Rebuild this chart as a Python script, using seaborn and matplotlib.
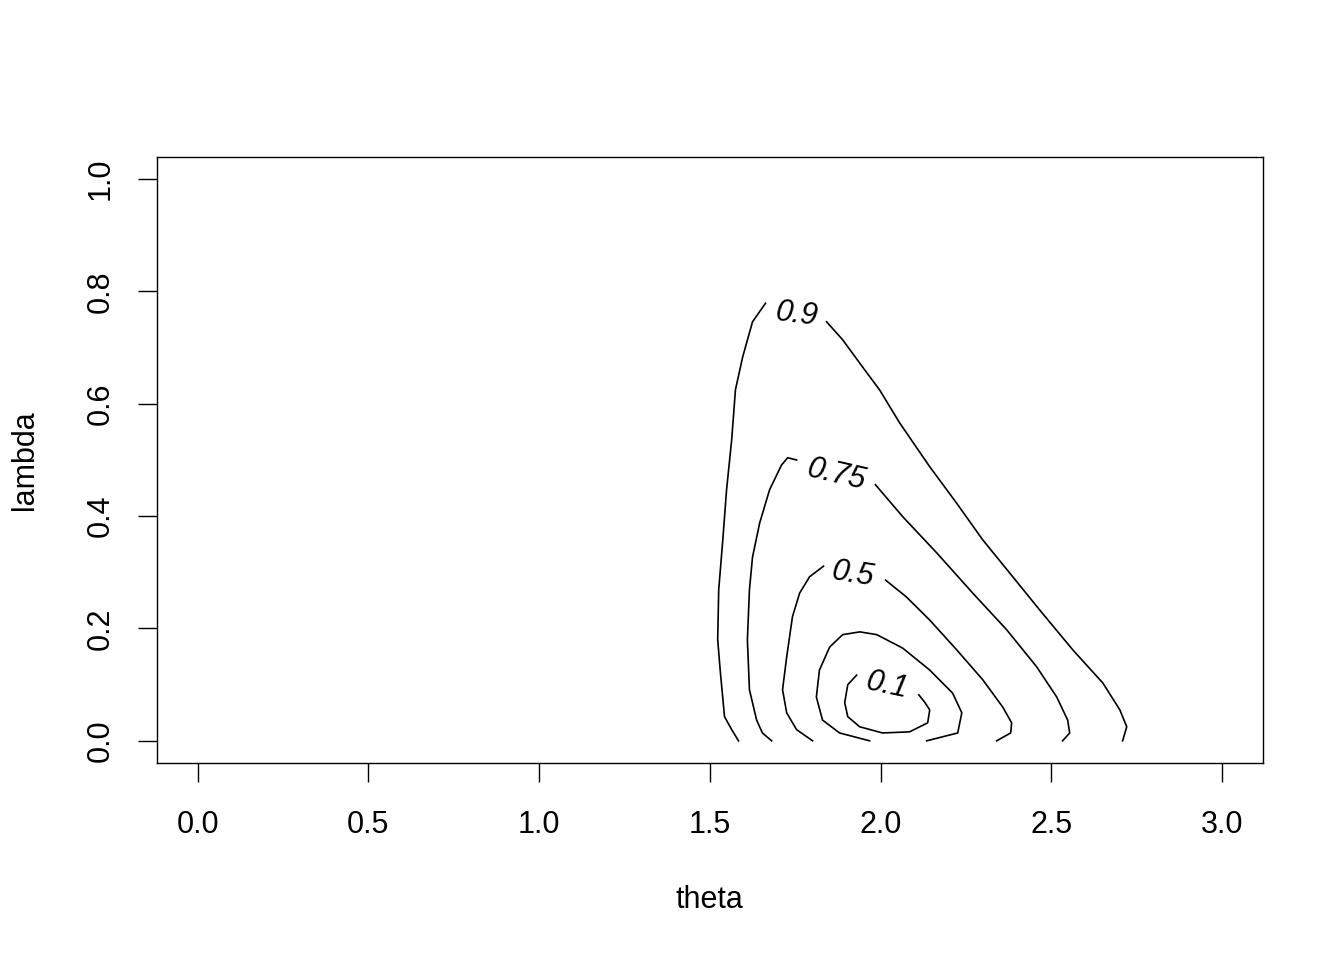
import numpy as np
import pandas as pd
import matplotlib
matplotlib.use("Agg")
import matplotlib.pyplot as plt
import seaborn as sns

# contour lines (theta, lambda), split where the label sits
theta_09_a = [1.663, 1.625, 1.596, 1.575, 1.564, 1.549, 1.538, 1.526, 1.523, 1.531, 1.543, 1.564, 1.584]
lambda_09_a = [0.779, 0.746, 0.683, 0.625, 0.536, 0.447, 0.358, 0.269, 0.180, 0.121, 0.043, 0.020, 0.0]
theta_09_b = [1.842, 1.889, 1.948, 1.997, 2.056, 2.144, 2.223, 2.299, 2.378, 2.466, 2.563, 2.651, 2.701, 2.721, 2.709]
lambda_09_b = [0.746, 0.714, 0.665, 0.625, 0.566, 0.488, 0.423, 0.358, 0.299, 0.233, 0.162, 0.103, 0.055, 0.025, 0.0]

theta_075_a = [1.754, 1.728, 1.710, 1.675, 1.646, 1.625, 1.616, 1.610, 1.616, 1.637, 1.654, 1.681]
lambda_075_a = [0.500, 0.504, 0.491, 0.447, 0.388, 0.327, 0.269, 0.180, 0.091, 0.037, 0.014, 0.0]
theta_075_b = [1.985, 2.065, 2.164, 2.270, 2.369, 2.457, 2.516, 2.548, 2.554, 2.533]
lambda_075_b = [0.456, 0.399, 0.335, 0.263, 0.198, 0.132, 0.078, 0.037, 0.014, 0.0]

theta_05_a = [1.833, 1.792, 1.763, 1.742, 1.725, 1.713, 1.725, 1.754, 1.801]
lambda_05_a = [0.311, 0.292, 0.263, 0.221, 0.149, 0.091, 0.050, 0.020, 0.0]
theta_05_b = [2.015, 2.076, 2.144, 2.223, 2.299, 2.358, 2.384, 2.381, 2.340]
lambda_05_b = [0.286, 0.256, 0.215, 0.162, 0.109, 0.060, 0.032, 0.014, 0.0]

theta_025 = [1.968, 1.880, 1.830, 1.812, 1.821, 1.851, 1.889, 1.939, 1.989, 2.065, 2.144, 2.211, 2.238, 2.226, 2.135]
lambda_025 = [0.0, 0.014, 0.037, 0.078, 0.126, 0.167, 0.189, 0.194, 0.189, 0.165, 0.126, 0.085, 0.050, 0.014, 0.0]

theta_01 = [1.930, 1.904, 1.895, 1.904, 1.939, 2.006, 2.085, 2.138, 2.144, 2.129, 2.112]
lambda_01 = [0.117, 0.100, 0.068, 0.043, 0.025, 0.014, 0.016, 0.032, 0.055, 0.069, 0.082]

# contour labels
label_text = ["0.9", "0.75", "0.5", "0.1"]
label_theta = [1.754, 1.871, 1.918, 2.018]
label_lambda = [0.758, 0.473, 0.297, 0.098]
label_rot = [-7, -13, -9, -12]

segs = [
    ("09a", theta_09_a, lambda_09_a), ("09b", theta_09_b, lambda_09_b),
    ("075a", theta_075_a, lambda_075_a), ("075b", theta_075_b, lambda_075_b),
    ("05a", theta_05_a, lambda_05_a), ("05b", theta_05_b, lambda_05_b),
    ("025", theta_025, lambda_025), ("01", theta_01, lambda_01),
]
df = pd.concat([pd.DataFrame({"theta": t, "lambda": l, "seg": s}) for s, t, l in segs],
               ignore_index=True)

plt.rcParams['font.family'] = ['Liberation Sans', 'DejaVu Sans']
fs = 22

fig = plt.figure(figsize=(13.44, 9.6), dpi=100)
ax = fig.add_axes([0.1166, 0.2049, 0.8231, 0.6319])

sns.lineplot(data=df, x="theta", y="lambda", units="seg", estimator=None, sort=False,
             color="black", lw=1.2, ax=ax, legend=False)

for txt, tx, ly, r in zip(label_text, label_theta, label_lambda, label_rot):
    ax.text(tx, ly, txt, fontsize=22, style="italic", rotation=r,
            ha="center", va="center", rotation_mode="anchor")

ax.set_xlim(-0.12, 3.12)
ax.set_ylim(-0.04, 1.04)
ax.set_xticks([0.0, 0.5, 1.0, 1.5, 2.0, 2.5, 3.0])
ax.set_yticks([0.0, 0.2, 0.4, 0.6, 0.8, 1.0])
ax.set_xticklabels(["0.0", "0.5", "1.0", "1.5", "2.0", "2.5", "3.0"])
ax.set_yticklabels(["0.0", "0.2", "0.4", "0.6", "0.8", "1.0"], rotation=90, va="center")
ax.tick_params(axis="both", direction="out", length=13.7, width=1.0, labelsize=fs, color="black")
ax.tick_params(axis="x", pad=20)
ax.tick_params(axis="y", pad=16)
for sp in ax.spines.values():
    sp.set_linewidth(1.0)
    sp.set_color("black")

ax.set_xlabel("theta", fontsize=fs)
ax.set_ylabel("lambda", fontsize=fs)
ax.xaxis.set_label_coords(0.5, -0.2254)
ax.xaxis.label.set_va("center")
ax.yaxis.set_label_coords(-0.119, 0.5)
ax.yaxis.label.set_va("center")

fig.savefig("out.png", dpi=100)
